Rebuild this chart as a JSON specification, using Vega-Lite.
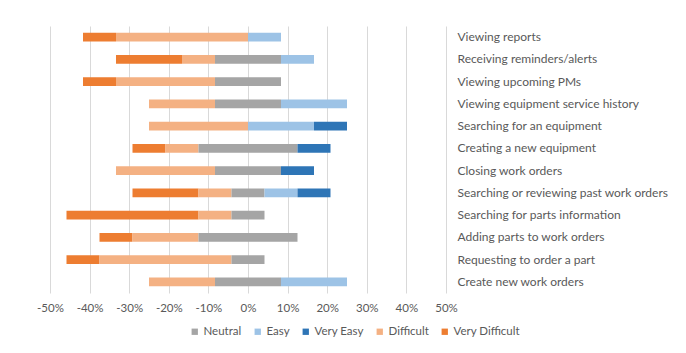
{
  "$schema": "https://vega.github.io/schema/vega-lite/v6.json",
  "width": 396,
  "height": 267,
  "autosize": {"type": "none"},
  "padding": {"left": 50, "top": 26, "right": 240, "bottom": 60},
  "background": "white",
  "config": {
    "view": {"stroke": null},
    "font": "Lato"
  },
  "data": {
    "values": [
      {"task": "Viewing reports", "response": "Very Difficult", "pct": 8.333},
      {"task": "Viewing reports", "response": "Difficult", "pct": 33.333},
      {"task": "Viewing reports", "response": "Easy", "pct": 8.333},
      {"task": "Receiving reminders/alerts", "response": "Very Difficult", "pct": 16.667},
      {"task": "Receiving reminders/alerts", "response": "Difficult", "pct": 8.333},
      {"task": "Receiving reminders/alerts", "response": "Neutral", "pct": 16.667},
      {"task": "Receiving reminders/alerts", "response": "Easy", "pct": 8.333},
      {"task": "Viewing upcoming PMs", "response": "Very Difficult", "pct": 8.333},
      {"task": "Viewing upcoming PMs", "response": "Difficult", "pct": 25},
      {"task": "Viewing upcoming PMs", "response": "Neutral", "pct": 16.667},
      {"task": "Viewing equipment service history", "response": "Difficult", "pct": 16.667},
      {"task": "Viewing equipment service history", "response": "Neutral", "pct": 16.667},
      {"task": "Viewing equipment service history", "response": "Easy", "pct": 16.667},
      {"task": "Searching for an equipment", "response": "Difficult", "pct": 25},
      {"task": "Searching for an equipment", "response": "Easy", "pct": 16.667},
      {"task": "Searching for an equipment", "response": "Very Easy", "pct": 8.333},
      {"task": "Creating a new equipment", "response": "Very Difficult", "pct": 8.333},
      {"task": "Creating a new equipment", "response": "Difficult", "pct": 8.333},
      {"task": "Creating a new equipment", "response": "Neutral", "pct": 25},
      {"task": "Creating a new equipment", "response": "Very Easy", "pct": 8.333},
      {"task": "Closing work orders", "response": "Difficult", "pct": 25},
      {"task": "Closing work orders", "response": "Neutral", "pct": 16.667},
      {"task": "Closing work orders", "response": "Very Easy", "pct": 8.333},
      {"task": "Searching or reviewing past work orders", "response": "Very Difficult", "pct": 16.667},
      {"task": "Searching or reviewing past work orders", "response": "Difficult", "pct": 8.333},
      {"task": "Searching or reviewing past work orders", "response": "Neutral", "pct": 8.333},
      {"task": "Searching or reviewing past work orders", "response": "Easy", "pct": 8.333},
      {"task": "Searching or reviewing past work orders", "response": "Very Easy", "pct": 8.333},
      {"task": "Searching for parts information", "response": "Very Difficult", "pct": 33.333},
      {"task": "Searching for parts information", "response": "Difficult", "pct": 8.333},
      {"task": "Searching for parts information", "response": "Neutral", "pct": 8.333},
      {"task": "Adding parts to work orders", "response": "Very Difficult", "pct": 8.333},
      {"task": "Adding parts to work orders", "response": "Difficult", "pct": 16.667},
      {"task": "Adding parts to work orders", "response": "Neutral", "pct": 25},
      {"task": "Requesting to order a part", "response": "Very Difficult", "pct": 8.333},
      {"task": "Requesting to order a part", "response": "Difficult", "pct": 33.333},
      {"task": "Requesting to order a part", "response": "Neutral", "pct": 8.333},
      {"task": "Create new work orders", "response": "Difficult", "pct": 16.667},
      {"task": "Create new work orders", "response": "Neutral", "pct": 16.667},
      {"task": "Create new work orders", "response": "Easy", "pct": 16.667}
    ]
  },
  "transform": [
    {"calculate": "indexof(['Very Difficult','Difficult','Neutral','Easy','Very Easy'], datum.response)", "as": "ord"},
    {"calculate": "(datum.response === 'Very Difficult' || datum.response === 'Difficult') ? datum.pct : (datum.response === 'Neutral' ? datum.pct / 2 : 0)", "as": "neg"},
    {"joinaggregate": [{"op": "sum", "field": "neg", "as": "offset"}], "groupby": ["task"]},
    {"stack": "pct", "groupby": ["task"], "sort": [{"field": "ord", "order": "ascending"}], "as": ["s0", "s1"]},
    {"calculate": "(datum.s0 - datum.offset) / 100", "as": "x0"},
    {"calculate": "(datum.s1 - datum.offset) / 100", "as": "x1"}
  ],
  "mark": {"type": "bar"},
  "encoding": {
    "y": {
      "field": "task",
      "type": "nominal",
      "sort": ["Viewing reports", "Receiving reminders/alerts", "Viewing upcoming PMs", "Viewing equipment service history", "Searching for an equipment", "Creating a new equipment", "Closing work orders", "Searching or reviewing past work orders", "Searching for parts information", "Adding parts to work orders", "Requesting to order a part", "Create new work orders"],
      "scale": {"paddingInner": 0.6, "paddingOuter": 0.3},
      "axis": {
        "orient": "right",
        "title": null,
        "domain": false,
        "ticks": false,
        "labelPadding": 11,
        "labelAlign": "left",
        "labelFontSize": 12,
        "labelColor": "#595959",
        "labelFont": "Lato",
        "labelLimit": 300
      }
    },
    "x": {
      "field": "x0",
      "type": "quantitative",
      "scale": {"domain": [-0.5, 0.5], "nice": false, "zero": false},
      "axis": {
        "title": null,
        "values": [-0.5, -0.4, -0.3, -0.2, -0.1, 0, 0.1, 0.2, 0.3, 0.4, 0.5],
        "labelExpr": "(datum.value < -0.001 ? '-' : '') + format(abs(datum.value), '.0%')",
        "labelOverlap": false,
        "labelBound": false,
        "labelFlush": false,
        "domain": false,
        "ticks": false,
        "grid": true,
        "gridColor": "#D9D9D9",
        "gridWidth": 1,
        "labelPadding": 9,
        "labelFontSize": 11.5,
        "labelColor": "#595959",
        "labelFont": "Lato"
      }
    },
    "x2": {"field": "x1"},
    "color": {
      "field": "response",
      "type": "nominal",
      "scale": {
        "domain": ["Neutral", "Easy", "Very Easy", "Difficult", "Very Difficult"],
        "range": ["#A5A5A5", "#9DC3E6", "#2E75B6", "#F4B183", "#ED7D31"]
      },
      "legend": {
        "title": null,
        "orient": "none",
        "direction": "horizontal",
        "legendX": 139,
        "legendY": 300,
        "symbolType": "square",
        "symbolSize": 40,
        "symbolStrokeWidth": 0,
        "labelFontSize": 11.5,
        "labelColor": "#595959",
        "labelFont": "Lato",
        "labelOffset": 3,
        "columnPadding": 10,
        "gridAlign": "none"
      }
    }
  }
}
